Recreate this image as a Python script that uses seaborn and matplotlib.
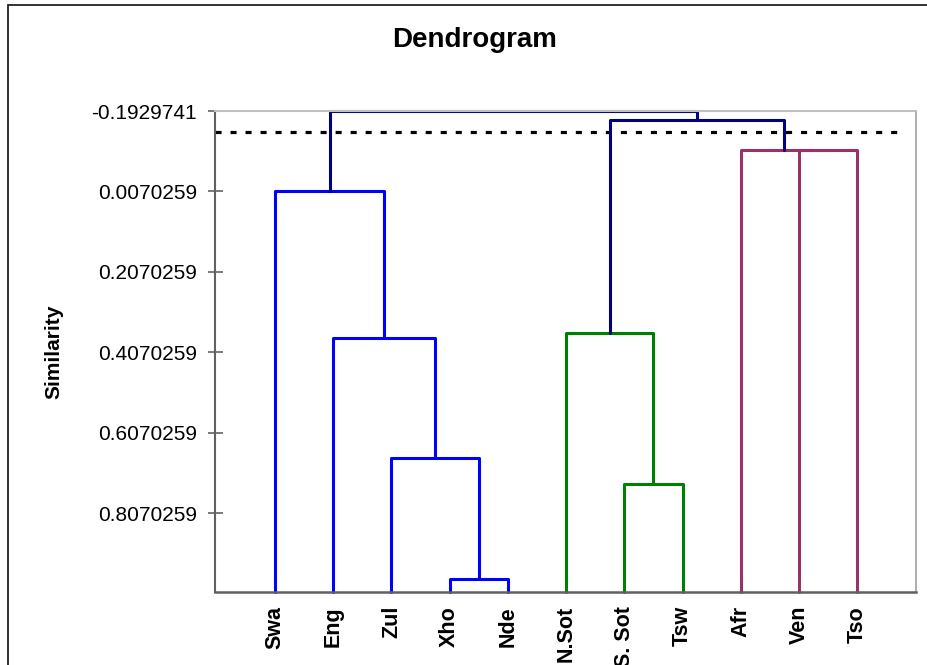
import numpy as np
import pandas as pd
import matplotlib
matplotlib.use("Agg")
import matplotlib.pyplot as plt
from matplotlib.patches import Rectangle
import seaborn as sns

# Leaves in dendrogram order
leaves = ["Swa", "Eng", "Zul", "Xho", "Nde", "N.Sot", "S. Sot", "Tsw", "Afr", "Ven", "Tso"]

# Agglomeration steps: (left node, right node, merge level, branch colour)
merge_left = ["Xho", "Zul", "Eng", "Swa", "S. Sot", "N.Sot", "Ven", "Afr", "n6", "n4"]
merge_right = ["Nde", "n1", "n2", "n3", "Tsw", "n5", "Tso", "n7", "n8", "n9"]
merge_level = [0.971, 0.670, 0.372, 0.005, 0.735, 0.359, -0.095, -0.096, -0.171, -0.1929741]
merge_group = ["A", "A", "A", "A", "B", "B", "C", "C", "D", "D"]

# Axis tick values and the cut level
y_ticks = [-0.1929741, 0.0070259, 0.2070259, 0.4070259, 0.6070259, 0.8070259]
cut_level = -0.141
leaf_level = 1.0035

palette = {"A": "#0000FF", "B": "#008000", "C": "#993366", "D": "#000080"}

# Build the U-shaped link segments
xpos = {name: float(i) for i, name in enumerate(leaves)}
ypos = {name: leaf_level for name in leaves}
rows = []
for k, (l, r, h, g) in enumerate(zip(merge_left, merge_right, merge_level, merge_group)):
    node = f"n{k + 1}"
    pts = [(xpos[l], ypos[l]), (xpos[l], h), (xpos[r], h), (xpos[r], ypos[r])]
    for order, (x, y) in enumerate(pts):
        rows.append({"link": node, "order": order, "x": x, "y": y, "group": g})
    xpos[node] = (xpos[l] + xpos[r]) / 2
    ypos[node] = h
links = pd.DataFrame(rows)

sns.set_theme(style="white")
plt.rcParams["font.family"] = ["Liberation Sans", "DejaVu Sans"]
plt.rcParams["text.color"] = "black"
plt.rcParams["xtick.color"] = "black"
plt.rcParams["ytick.color"] = "black"

fig = plt.figure(figsize=(9.28, 6.65), dpi=100)
ax = fig.add_axes([215 / 928, 73 / 665, 701 / 928, 481 / 665])

sns.lineplot(data=links, x="x", y="y", units="link", hue="group", palette=palette,
             estimator=None, sort=False, legend=False, linewidth=2.2, ax=ax,
             clip_on=False)

ax.axhline(cut_level, xmin=0, xmax=690 / 701, color="black", linewidth=2.3,
           linestyle=(0, (1.9, 2.8)), dash_capstyle="butt", zorder=1)

ax.set_xlim(-1.03, 11.01)
ax.set_ylim(leaf_level, -0.1929741)
ax.set_yticks(y_ticks)
ax.set_yticklabels([f"{v:.7f}" for v in y_ticks], fontsize=15)
ax.set_xticks(range(len(leaves)))
ax.set_xticklabels(leaves, rotation=90, fontsize=15.5, fontweight="bold")
ax.tick_params(axis="x", length=0, pad=10, labelcolor="black")
ax.tick_params(axis="y", direction="inout", length=10.8, width=1.1, color="#555555",
               pad=7.6, left=True, labelcolor="black")
ax.set_xlabel("")
ax.set_ylabel("")

for side, col, lw in [("left", "#606060", 1.5), ("bottom", "#606060", 1.8),
                      ("top", "#C0C0C0", 1.5), ("right", "#A0A0A0", 1.2)]:
    ax.spines[side].set_visible(True)
    ax.spines[side].set_color(col)
    ax.spines[side].set_linewidth(lw)

fig.text(475 / 928, 1 - 40 / 665, "Dendrogram", ha="center", va="center",
         fontsize=20, fontweight="bold", color="black")
fig.text(54 / 928, 1 - 352 / 665, "Similarity", ha="center", va="center",
         rotation=90, fontsize=15, fontweight="bold", color="black")

# Outer chart frame
fig.patches.append(Rectangle((8 / 928, -0.05), 1.2, 1 - 5 / 665 + 0.05,
                             transform=fig.transFigure, fill=False,
                             edgecolor="#222222", linewidth=1.3))

fig.savefig("out.png", dpi=100)
